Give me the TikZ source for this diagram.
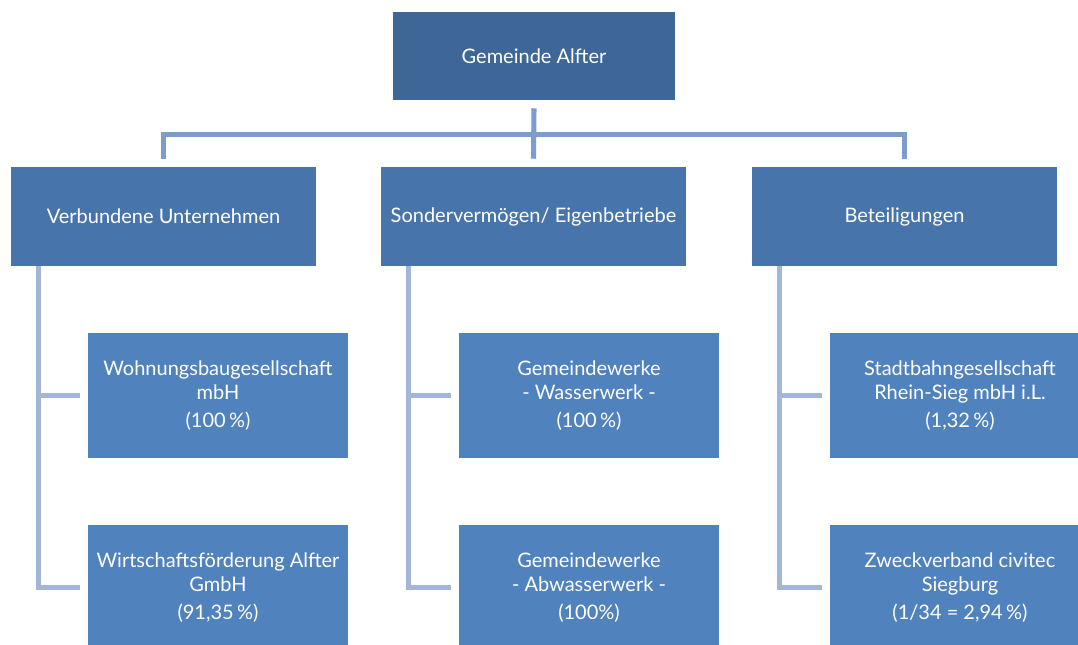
\documentclass[tikz,border=0pt]{standalone}
\usepackage{fontspec}
\setmainfont{Lato}
\usetikzlibrary{positioning,calc}
\definecolor{rootblue}{RGB}{62,102,151}
\definecolor{groupblue}{RGB}{71,117,171}
\definecolor{leafblue}{RGB}{80,130,190}
\definecolor{barblue}{RGB}{123,156,204}
\definecolor{stemblue}{RGB}{164,182,215}

\begin{document}
\begin{tikzpicture}[x=0.75pt,y=-0.75pt,
    box/.style={rectangle, inner sep=0pt, text=white, align=center,
      font=\fontsize{15pt}{18pt}\selectfont},
    rootbox/.style={box, fill=rootblue, minimum width=282*0.75pt, minimum height=88*0.75pt},
    groupbox/.style={box, fill=groupblue, minimum width=305*0.75pt, minimum height=99*0.75pt},
    leafbox/.style={box, fill=leafblue, minimum width=260*0.75pt, minimum height=125*0.75pt},
    bar/.style={draw=barblue, line width=3.8pt},
    stem/.style={draw=stemblue, line width=4pt}]
        \useasboundingbox (0,0) rectangle (1078,645);

        % Kopf
        \node[rootbox] (G) at (534,56) {Gemeinde Alfter};

        % zweite Ebene
        \node[groupbox] (V) at (163.5,216.5) {Verbundene Unternehmen};
        \node[groupbox] (S) at (533.5,216.5) {Sondervermögen/ Eigenbetriebe};
        \node[groupbox] (B) at (904.5,216.5) {Beteiligungen};

        % Gesellschaften
        \node[leafbox] (V1) at (218,395.5) {Wohnungsbaugesellschaft\\mbH\\[3pt](100\,\%)};
        \node[leafbox] (V2) at (218,587.5) {Wirtschaftsförderung Alfter\\GmbH\\[3pt](91,35\,\%)};
        \node[leafbox] (S1) at (589,395.5) {Gemeindewerke\\- Wasserwerk -\\[3pt](100\,\%)};
        \node[leafbox] (S2) at (589,587.5) {Gemeindewerke\\- Abwasserwerk -\\[3pt](100\%)};
        \node[leafbox] (B1) at (960,395.5) {Stadtbahngesellschaft\\Rhein-Sieg mbH i.L.\\[3pt](1,32\,\%)};
        \node[leafbox] (B2) at (960,587.5) {Zweckverband civitec\\Siegburg\\[3pt](1/34 = 2,94\,\%)};

        % Verbindungen oben
        \coordinate (J) at ($(G.south)+(0,34)$);
        \draw[bar] ([yshift=-6]G.south) -- ([yshift=6]S.north);
        \draw[bar] ([yshift=6]V.north) |- (J) -| ([yshift=6]B.north);

        % Stränge zu den Gesellschaften
        \foreach \g/\a/\b in {V/V1/V2, S/S1/S2, B/B1/B2} {
          \draw[stem] ($(\g.south west)+(28,6)$) |- ([xshift=-6]\b.west);
          \draw[stem] ($(\g.south west)+(28,0)$) |- ([xshift=-6]\a.west);
        }
    \end{tikzpicture}
\end{document}
